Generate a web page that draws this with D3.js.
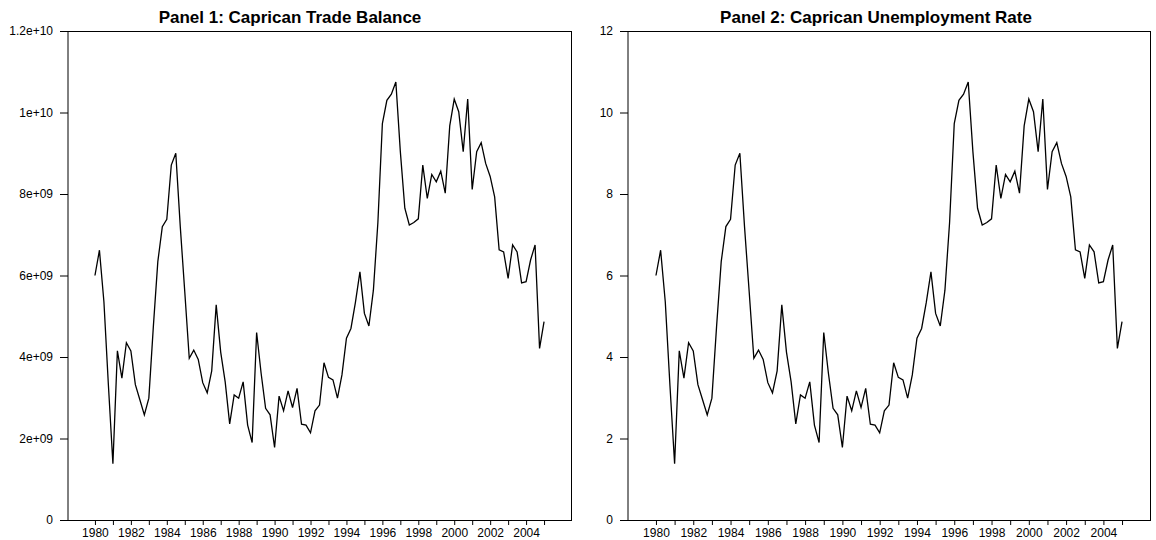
<!DOCTYPE html>
<html><head><meta charset="utf-8">
<script src="https://cdn.jsdelivr.net/npm/d3@7"></script>
<style>
body{margin:0;background:#fff}
svg{display:block}
text{font-family:"Liberation Sans",Arial,Helvetica,sans-serif;fill:#000}
</style>
</head><body>
<svg id="chart" width="1156" height="540"></svg>
<script>
// ---- data ----
const startYear = 1980;          // first quarter: 1980 Q1
const quarterStep = 0.25;

const unemploymentRate = [
  6.00, 6.62, 5.35, 3.30,
  1.38, 4.15, 3.48, 4.35,
  4.15, 3.32, 2.95, 2.58,
  2.99, 4.74, 6.34, 7.20,
  7.38, 8.71, 9.00, 7.20,
  5.60, 3.97, 4.17, 3.94,
  3.37, 3.12, 3.66, 5.28,
  4.12, 3.39, 2.36, 3.07,
  2.99, 3.39, 2.33, 1.90,
  4.60, 3.60, 2.74, 2.58,
  1.78, 3.04, 2.68, 3.17,
  2.76, 3.23, 2.35, 2.33,
  2.14, 2.68, 2.82, 3.86,
  3.50, 3.44, 2.99, 3.56,
  4.46, 4.70, 5.34, 6.09,
  5.07, 4.76, 5.64, 7.30,
  9.73, 10.30, 10.45, 10.75,
  9.04, 7.65, 7.24, 7.30,
  7.39, 8.71, 7.89, 8.48,
  8.30, 8.56, 8.02, 9.67,
  10.33, 10.02, 9.04, 10.33,
  8.11, 9.04, 9.26, 8.75,
  8.43, 7.93, 6.63, 6.58,
  5.93, 6.75, 6.58, 5.82,
  5.85, 6.38, 6.75, 4.21,
  4.87
];

const tradeBalance = [
  6.00e9, 6.62e9, 5.35e9, 3.30e9,
  1.38e9, 4.15e9, 3.48e9, 4.35e9,
  4.15e9, 3.32e9, 2.95e9, 2.58e9,
  2.99e9, 4.74e9, 6.34e9, 7.20e9,
  7.38e9, 8.71e9, 9.00e9, 7.20e9,
  5.60e9, 3.97e9, 4.17e9, 3.94e9,
  3.37e9, 3.12e9, 3.66e9, 5.28e9,
  4.12e9, 3.39e9, 2.36e9, 3.07e9,
  2.99e9, 3.39e9, 2.33e9, 1.90e9,
  4.60e9, 3.60e9, 2.74e9, 2.58e9,
  1.78e9, 3.04e9, 2.68e9, 3.17e9,
  2.76e9, 3.23e9, 2.35e9, 2.33e9,
  2.14e9, 2.68e9, 2.82e9, 3.86e9,
  3.50e9, 3.44e9, 2.99e9, 3.56e9,
  4.46e9, 4.70e9, 5.34e9, 6.09e9,
  5.07e9, 4.76e9, 5.64e9, 7.30e9,
  9.73e9, 10.30e9, 10.45e9, 10.75e9,
  9.04e9, 7.65e9, 7.24e9, 7.30e9,
  7.39e9, 8.71e9, 7.89e9, 8.48e9,
  8.30e9, 8.56e9, 8.02e9, 9.67e9,
  10.33e9, 10.02e9, 9.04e9, 10.33e9,
  8.11e9, 9.04e9, 9.26e9, 8.75e9,
  8.43e9, 7.93e9, 6.63e9, 6.58e9,
  5.93e9, 6.75e9, 6.58e9, 5.82e9,
  5.85e9, 6.38e9, 6.75e9, 4.21e9,
  4.87e9
];

const xTickValues = [1980,1981,1982,1983,1984,1985,1986,1987,1988,1989,1990,1991,1992,
                     1993,1994,1995,1996,1997,1998,1999,2000,2001,2002,2003,2004,2005];
const xTickLabels = ["1980","","1982","","1984","","1986","","1988","","1990","","1992",
                     "","1994","","1996","","1998","","2000","","2002","","2004",""];
const xDomain = [1978.5, 2006.5];

const yTicks1 = [0, 2e9, 4e9, 6e9, 8e9, 1e10, 1.2e10];
const yTickLabels1 = ["0","2e+09","4e+09","6e+09","8e+09","1e+10","1.2e+10"];
const yDomain1 = [0, 1.2e10];

const yTicks2 = [0, 2, 4, 6, 8, 10, 12];
const yTickLabels2 = ["0","2","4","6","8","10","12"];
const yDomain2 = [0, 12];

const titles = ["Panel 1: Caprican Trade Balance", "Panel 2: Caprican Unemployment Rate"];

// ---- layout ----
const svg = d3.select("#chart");
const plotTop = 31, plotBottom = 520;
const tickFont = 12;
const panels = [
  {left: 68,  right: 571,  titleX: 290, values: tradeBalance,     yDomain: yDomain1, yTicks: yTicks1, yLabels: yTickLabels1, title: titles[0]},
  {left: 628, right: 1150, titleX: 876, values: unemploymentRate, yDomain: yDomain2, yTicks: yTicks2, yLabels: yTickLabels2, title: titles[1]}
];

panels.forEach(p => {
  const g = svg.append("g");
  const x = d3.scaleLinear().domain(xDomain).range([p.left, p.right]);
  const y = d3.scaleLinear().domain(p.yDomain).range([plotBottom, plotTop]);

  // frame: top, right, bottom lines
  g.append("line").attr("x1", p.left).attr("x2", p.right + 0.5).attr("y1", plotTop + 0.5).attr("y2", plotTop + 0.5)
    .attr("stroke", "#000").attr("stroke-width", 1);
  g.append("line").attr("x1", p.right + 0.5).attr("x2", p.right + 0.5).attr("y1", plotTop).attr("y2", plotBottom + 1)
    .attr("stroke", "#000").attr("stroke-width", 1);
  g.append("line").attr("x1", p.left).attr("x2", p.right + 0.5).attr("y1", plotBottom + 0.5).attr("y2", plotBottom + 0.5)
    .attr("stroke", "#000").attr("stroke-width", 1);
  // y axis spine
  g.append("line").attr("x1", p.left).attr("x2", p.left).attr("y1", plotTop).attr("y2", plotBottom + 1)
    .attr("stroke", "#000").attr("stroke-width", 1);

  // y axis
  const yAxis = d3.axisLeft(y).tickValues(p.yTicks).tickSize(8).tickPadding(7).tickSizeOuter(0)
    .tickFormat((d, i) => p.yLabels[i]);
  const ya = g.append("g").attr("transform", `translate(${p.left},0)`).call(yAxis);
  ya.select(".domain").remove();
  ya.selectAll("text").attr("font-size", tickFont).attr("font-family", '"Liberation Sans",Arial,sans-serif').attr("fill", "#000");
  ya.selectAll("line").attr("stroke", "#000");

  // x axis
  const xAxis = d3.axisBottom(x).tickValues(xTickValues).tickSize(5).tickPadding(3).tickSizeOuter(0)
    .tickFormat((d, i) => xTickLabels[i]);
  const xa = g.append("g").attr("transform", `translate(0,${plotBottom})`).call(xAxis);
  xa.select(".domain").remove();
  xa.selectAll("text").attr("font-size", tickFont).attr("font-family", '"Liberation Sans",Arial,sans-serif').attr("fill", "#000");
  xa.selectAll("line").attr("stroke", "#000");

  // series line
  const line = d3.line()
    .x((d, i) => x(startYear + i * quarterStep))
    .y(d => y(d));
  g.append("path").datum(p.values).attr("d", line)
    .attr("fill", "none").attr("stroke", "#000").attr("stroke-width", 1.3).attr("stroke-linejoin", "miter");

  // title
  g.append("text").attr("x", p.titleX).attr("y", 23).attr("text-anchor", "middle")
    .attr("font-size", 17).attr("font-weight", "bold").text(p.title);
});
</script>
</body></html>
